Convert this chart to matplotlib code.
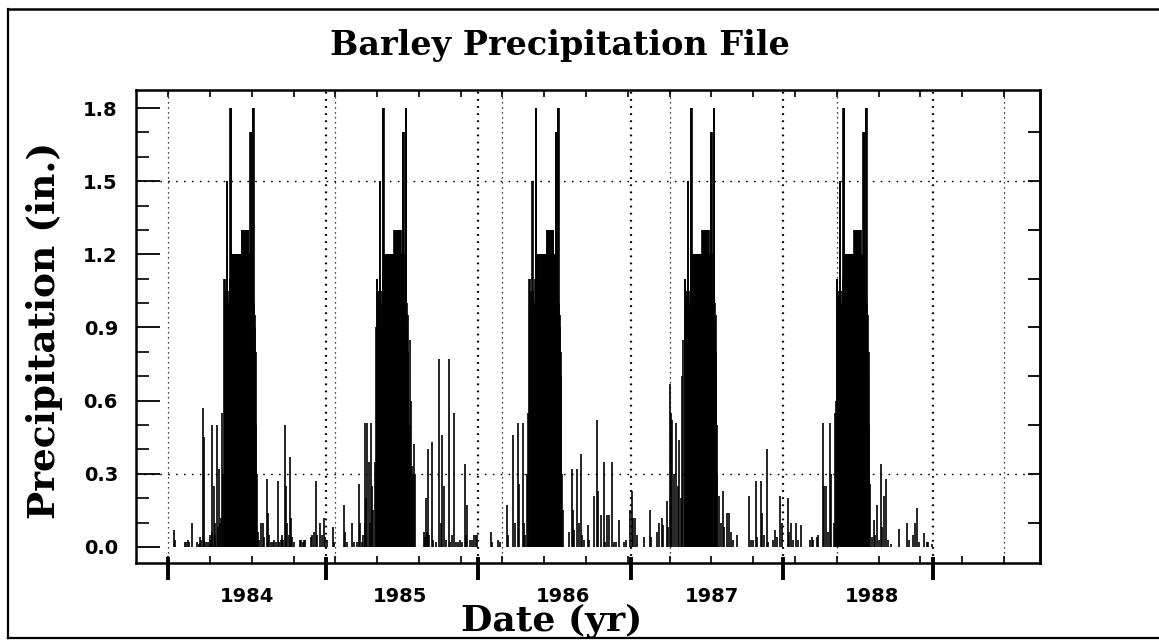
import numpy as np
import matplotlib
matplotlib.use('Agg')
import matplotlib.pyplot as plt
from matplotlib.lines import Line2D
from matplotlib.ticker import FixedLocator, MultipleLocator, FormatStrFormatter

# x axis is in days from the start of the file, y in inches of rain
year_names = ['1984', '1985', '1986', '1987', '1988']
year_ticks = [0, 378, 742, 1108, 1471, 1830]
label_days = [189, 555, 944, 1301, 1683]

# the wet-season block repeats every year, it starts on these days
core_start = [134, 499, 864, 1236, 1600]
core_rain = [1.10, 1.10, 0.95, 1.05, 1.00, 0.90, 1.05, 1.50, 1.50, 1.00,
             1.05, 0.95, 1.00, 0.02, 1.10, 1.80, 1.80, 1.80,
             1.20, 1.20, 1.20, 1.20, 1.20, 1.20, 1.20, 1.10, 1.10,
             1.20, 1.20, 1.20, 1.20, 1.20, 1.20, 1.20, 1.20, 1.20, 1.20,
             1.20, 1.20, 1.20, 1.20, 1.20,
             1.30, 1.30, 1.30, 1.30, 1.30, 1.30, 1.30, 1.30, 1.30, 1.30,
             1.30, 1.30, 1.30, 1.30, 1.30, 1.30,
             1.20, 1.20, 1.20, 1.20, 1.20, 1.70, 1.70, 1.70, 1.20, 0.00,
             1.00, 1.80, 1.80, 1.80, 1.00, 0.90, 0.95, 0.70, 0.80, 0.50, 0.30]

# the other rainy days of each year
days_1984 = [14, 16, 40, 43, 47, 50, 58, 70, 73, 76, 79, 84, 85, 87, 91, 95, 99, 101,
             104, 106, 109, 111, 113, 117, 120, 122, 125, 127, 130, 132,
             215, 218, 222, 226, 229, 236, 238, 241, 246, 250, 254, 258, 262, 265,
             269, 273, 276, 280, 282, 285, 289, 292, 294, 297, 301, 316, 319, 322,
             325, 328, 341, 345, 349, 353, 357]
rain_1984 = [0.07, 0.03, 0.02, 0.02, 0.03, 0.02, 0.10, 0.02, 0.01, 0.04, 0.03, 0.57,
             0.45, 0.03, 0.02, 0.02, 0.03, 0.05, 0.50, 0.06, 0.25, 0.10, 0.05, 0.50,
             0.08, 0.32, 0.10, 0.12, 0.55, 0.30,
             0.06, 0.03, 0.10, 0.10, 0.04, 0.28, 0.14, 0.05, 0.02, 0.02, 0.03, 0.02,
             0.27, 0.02, 0.03, 0.05, 0.03, 0.50, 0.25, 0.10, 0.05, 0.37, 0.12, 0.04,
             0.02, 0.03, 0.03, 0.02, 0.03, 0.03, 0.04, 0.05, 0.06, 0.27, 0.05]

days_1985 = [364, 369, 373, 376, 380, 394, 398, 421, 424, 427, 439, 444, 452, 457,
             459, 463, 467, 470, 472, 474, 477, 480, 482, 485, 488, 490, 494, 497,
             578, 580, 582, 584, 586, 588, 590, 612, 614, 617, 619, 622, 625, 631,
             634, 640, 649, 653, 656, 660, 664, 671, 674, 680, 684, 688, 693, 698,
             703, 710, 713, 716, 722, 728, 732, 736]
rain_1985 = [0.10, 0.05, 0.12, 0.04, 0.03, 0.08, 0.02, 0.17, 0.06, 0.02, 0.10, 0.02,
             0.02, 0.26, 0.10, 0.02, 0.05, 0.10, 0.51, 0.20, 0.51, 0.35, 0.10, 0.51,
             0.25, 0.15, 0.35, 0.90,
             0.85, 0.60, 0.33, 0.33, 0.30, 0.42, 0.30, 0.06, 0.04, 0.20, 0.06, 0.40,
             0.05, 0.43, 0.03, 0.02, 0.77, 0.10, 0.46, 0.25, 0.03, 0.77, 0.02, 0.05,
             0.55, 0.02, 0.02, 0.03, 0.02, 0.34, 0.05, 0.17, 0.03, 0.03, 0.05, 0.05]

days_1986 = [740, 772, 775, 790, 794, 810, 813, 826, 829, 836, 839, 848, 851, 855,
             859, 861,
             945, 958, 966, 968, 972, 979, 983, 988, 991, 996, 1004, 1008, 1020,
             1027, 1029, 1035, 1042, 1045, 1050, 1056, 1063, 1067, 1072, 1079, 1090,
             1095]
rain_1986 = [0.05, 0.06, 0.02, 0.03, 0.02, 0.17, 0.05, 0.46, 0.10, 0.51, 0.26, 0.51,
             0.10, 0.05, 0.30, 0.55,
             0.15, 0.06, 0.32, 0.15, 0.07, 0.32, 0.10, 0.38, 0.05, 0.03, 0.09, 0.03,
             0.21, 0.52, 0.23, 0.13, 0.35, 0.02, 0.13, 0.13, 0.35, 0.02, 0.02, 0.11,
             0.02, 0.03]

days_1987 = [1106, 1110, 1113, 1117, 1121, 1139, 1152, 1156, 1170, 1174, 1181, 1185,
             1194, 1197, 1201, 1203, 1206, 1210, 1216, 1219, 1222, 1226, 1230, 1233,
             1318, 1322, 1328, 1331, 1337, 1342, 1346, 1352, 1360, 1390, 1394, 1399,
             1406, 1410, 1418, 1421, 1426, 1432, 1436, 1448, 1453, 1458, 1465, 1468]
rain_1987 = [0.15, 0.23, 0.12, 0.12, 0.05, 0.04, 0.15, 0.04, 0.06, 0.10, 0.12, 0.09,
             0.19, 0.08, 0.67, 0.55, 0.52, 0.30, 0.51, 0.25, 0.44, 0.20, 0.70, 0.85,
             0.21, 0.10, 0.23, 0.08, 0.14, 0.14, 0.06, 0.03, 0.05, 0.21, 0.03, 0.03,
             0.27, 0.04, 0.27, 0.14, 0.05, 0.40, 0.02, 0.03, 0.07, 0.04, 0.21, 0.10]

days_1988 = [1482, 1486, 1490, 1495, 1502, 1508, 1514, 1536, 1540, 1544, 1552, 1555,
             1568, 1570, 1574, 1580, 1584, 1587, 1592, 1596, 1598,
             1680, 1684, 1689, 1692, 1697, 1702, 1706, 1709, 1714, 1718, 1722, 1730,
             1749, 1769, 1772, 1783, 1787, 1792, 1796, 1809, 1815, 1818, 1827]
rain_1988 = [0.20, 0.06, 0.10, 0.03, 0.10, 0.03, 0.09, 0.03, 0.04, 0.03, 0.04, 0.05,
             0.51, 0.25, 0.25, 0.06, 0.51, 0.30, 0.10, 0.55, 0.60,
             0.26, 0.04, 0.11, 0.05, 0.17, 0.03, 0.34, 0.08, 0.21, 0.28, 0.03, 0.01,
             0.075, 0.10, 0.03, 0.05, 0.10, 0.16, 0.02, 0.055, 0.02, 0.02, 0.01]

side_days = [days_1984, days_1985, days_1986, days_1987, days_1988]
side_rain = [rain_1984, rain_1985, rain_1986, rain_1987, rain_1988]

fig = plt.figure(figsize=(11.59, 6.41), dpi=100)
ax = fig.add_axes([0.1173, 0.1217, 0.78, 0.7379])

for i in range(len(year_names)):
    d = np.concatenate([side_days[i], core_start[i] + np.arange(len(core_rain))])
    r = np.concatenate([side_rain[i], core_rain])
    ax.vlines(d, 0, r, colors='black', linewidth=1.2)

# dotted grid
for g in range(0, 2001, 400):
    ax.axvline(g, color='black', lw=0.9, linestyle=(0, (1, 3)))
for yb in year_ticks[1:]:
    ax.axvline(yb, color='black', lw=1.6, linestyle=(0, (0.8, 2.4)))
for h in [0.3, 1.5]:
    ax.axhline(h, color='black', lw=1.0, linestyle=(0, (1.2, 4.5)))

ax.set_xlim(-77, 2086)
ax.set_ylim(-0.066, 1.874)

for s in ax.spines.values():
    s.set_linewidth(1.8)

# x: year names between the thick year ticks, small ticks every 100 days
ax.xaxis.set_major_locator(FixedLocator(label_days))
ax.set_xticklabels([])
ax.tick_params(axis='x', which='major', length=0)
ax.xaxis.set_minor_locator(MultipleLocator(100))
ax.tick_params(axis='x', which='minor', direction='in', top=True, bottom=True,
               length=5, width=1.2)
for d, name in zip(label_days, year_names):
    ax.text(d, -0.0825, name, transform=ax.get_xaxis_transform(), ha='center',
            va='baseline', fontsize=14, fontweight='bold', family='DejaVu Sans')
ax.vlines(year_ticks, -0.035, 0.0127, transform=ax.get_xaxis_transform(),
          colors='black', linewidth=2.8, clip_on=False)

# y: labelled every 0.3, minor every 0.1, right side ticks every 0.2
ax.yaxis.set_major_locator(MultipleLocator(0.3))
ax.yaxis.set_minor_locator(MultipleLocator(0.1))
ax.yaxis.set_major_formatter(FormatStrFormatter('%.1f'))
ax.tick_params(axis='y', which='major', direction='in', length=17, width=1.3, pad=13,
               labelsize=14)
ax.tick_params(axis='y', which='minor', direction='in', length=9, width=1.2)
for lab in ax.get_yticklabels():
    lab.set_fontweight('bold')
sec = ax.secondary_yaxis('right')
sec.set_yticks([0.1, 0.3, 0.5, 0.7, 0.9, 1.1, 1.3, 1.5, 1.7])
sec.set_yticklabels([])
sec.tick_params(direction='in', length=9, width=1.3)
sec.spines['right'].set_linewidth(1.8)

fig.text(560 / 1159, 1 - 45 / 641, 'Barley Precipitation File', ha='center',
         va='center', fontsize=24, fontweight='bold', family='DejaVu Serif')
fig.text(45 / 1159, 1 - 330 / 641, 'Precipitation (in.)', ha='center', va='center',
         rotation=90, fontsize=27, fontweight='bold', family='DejaVu Serif')
fig.text(552 / 1159, 1 - 621 / 641, 'Date (yr)', ha='center', va='center',
         fontsize=26, fontweight='bold', family='DejaVu Serif')

# page frame
fig.add_artist(Line2D([8 / 1159, 1], [1 - 9 / 641, 1 - 9 / 641], color='black', lw=1.8,
                      transform=fig.transFigure))
fig.add_artist(Line2D([8 / 1159, 8 / 1159], [1 - 9 / 641, 1 - 638 / 641], color='black',
                      lw=1.6, transform=fig.transFigure))
fig.add_artist(Line2D([8 / 1159, 1], [1 - 638 / 641, 1 - 638 / 641], color='black',
                      lw=1.6, transform=fig.transFigure))

fig.savefig('out.png', dpi=100)
